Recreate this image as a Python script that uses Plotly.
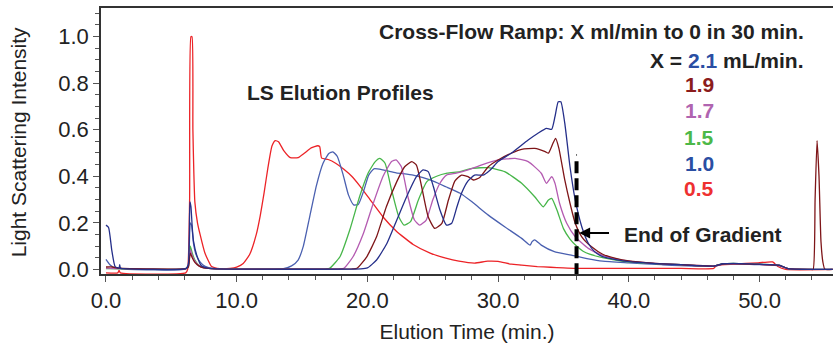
import plotly.graph_objects as go

# ---------------- data ----------------
red_x = [0, 0.9, 1.0, 1.1, 6.1, 6.25, 6.4, 6.5, 6.58, 6.65, 6.72, 6.8, 7.0, 7.2, 7.57, 8.08, 8.5, 9.0, 9.5,
         10.0, 10.5, 11.0, 11.5, 11.8, 12.1, 12.4, 12.7, 12.95, 13.2, 13.6, 14.1, 14.7, 15.2, 15.7, 16.2,
         16.35, 16.5, 17.0, 17.6, 18.2, 18.8, 19.4, 20.2, 21.2, 22.2, 23.5, 24.8, 26.0, 27.0, 28.2, 29.2,
         30.0, 31.0, 31.8, 33.0, 34.0, 35.0, 36.0, 38.0, 40.0, 44.0, 46.5, 46.7, 48.0, 49.9, 51.0, 51.4,
         52.0, 55.6]
red_y = [-0.015, -0.015, -0.005, -0.015, -0.015, 0.0, 0.3, 1.0, 1.0, 0.6, 0.42, 0.29, 0.2, 0.15, 0.07,
         0.012, 0.004, 0.002, 0.004, 0.01, 0.025, 0.065, 0.15, 0.23, 0.33, 0.44, 0.53, 0.553, 0.548, 0.51,
         0.48, 0.48, 0.50, 0.522, 0.531, 0.527, 0.478, 0.472, 0.455, 0.43, 0.40, 0.36, 0.30, 0.225, 0.165,
         0.107, 0.07, 0.048, 0.035, 0.027, 0.035, 0.034, 0.022, 0.018, 0.012, 0.009, 0.006, 0.004, 0.004,
         0.004, 0.004, 0.004, 0.016, 0.022, 0.028, 0.032, 0.012, 0.0, 0.0]

b10_x = [0, 0.3, 0.6, 1.0, 1.05, 1.2, 6.1, 6.3, 6.45, 6.55, 6.7, 6.85, 7.1, 7.4, 7.8, 8.5, 13.5, 14.2,
         14.7, 15.1, 15.6, 16.1, 16.6, 17.05, 17.35, 17.7, 18.15, 18.55, 18.95, 19.3, 19.7, 20.1, 20.5,
         21.2, 22.2, 23.5, 24.8, 26.0, 27.1, 28.0, 29.25, 30.5, 31.8, 32.45, 32.6, 32.8, 33.3, 34.3, 35.6,
         36.9, 38.0, 40.0, 42.5, 46.5, 47.2, 48.0, 50.0, 51.5, 52.2, 55.6]
b10_y = [0.043, 0.02, 0.008, 0.004, 0.01, 0.003, 0.002, 0.02, 0.2, 0.19, 0.11, 0.07, 0.04, 0.02, 0.008,
         0.002, 0.002, 0.015, 0.04, 0.1, 0.23, 0.36, 0.455, 0.498, 0.505, 0.485, 0.405, 0.32, 0.277,
         0.279, 0.334, 0.405, 0.432, 0.427, 0.415, 0.405, 0.384, 0.355, 0.327, 0.29, 0.233, 0.183, 0.133,
         0.104, 0.119, 0.127, 0.104, 0.076, 0.061, 0.045, 0.035, 0.028, 0.02, 0.013, 0.022, 0.024, 0.02,
         0.016, 0.002, 0.0]

g15_x = [0, 1.0, 6.1, 6.3, 6.45, 6.6, 6.8, 7.1, 7.5, 8.5, 16.8, 17.1, 17.9, 18.65, 19.4, 20.05, 20.6,
         20.95, 21.35, 21.85, 22.4, 22.8, 23.3, 23.9, 24.55, 25.3, 26.1, 27.1, 28.0, 29.25, 30.5, 31.8,
         32.8, 33.45, 33.85, 34.1, 34.5, 35.0, 35.5, 36.0, 36.5, 37.0, 38.0, 39.0, 40.0, 42.0, 44.0, 46.5,
         47.2, 48.0, 50.0, 51.5, 52.2, 55.6]
g15_y = [0.003, 0.002, 0.002, 0.01, 0.1, 0.07, 0.04, 0.018, 0.006, 0.002, 0.002, 0.004, 0.054, 0.169,
         0.312, 0.413, 0.463, 0.477, 0.456, 0.341, 0.226, 0.19, 0.205, 0.298, 0.377, 0.40, 0.413, 0.42,
         0.434, 0.437, 0.42, 0.37, 0.312, 0.269, 0.298, 0.305, 0.255, 0.175, 0.13, 0.10, 0.078, 0.065,
         0.05, 0.04, 0.032, 0.025, 0.02, 0.014, 0.024, 0.026, 0.022, 0.018, 0.003, 0.0]

m17_x = [0, 1.0, 6.1, 6.3, 6.45, 6.6, 6.8, 7.1, 7.5, 8.5, 17.8, 18.2, 18.9, 19.7, 20.45, 21.2, 21.85,
         22.2, 22.6, 23.1, 23.6, 24.0, 24.5, 25.0, 25.55, 26.05, 26.8, 27.7, 28.7, 30.0, 31.3, 32.3, 33.3,
         33.7, 34.1, 34.35, 34.7, 35.25, 35.9, 36.9, 38.0, 39.0, 40.0, 42.0, 44.0, 46.5, 47.2, 48.0, 50.0,
         51.5, 52.2, 55.6]
m17_y = [0.005, 0.003, 0.002, 0.01, 0.085, 0.06, 0.035, 0.016, 0.006, 0.002, 0.002, 0.004, 0.054, 0.155,
         0.284, 0.40, 0.463, 0.47, 0.441, 0.312, 0.212, 0.19, 0.212, 0.298, 0.37, 0.405, 0.413, 0.427,
         0.448, 0.47, 0.477, 0.463, 0.413, 0.37, 0.398, 0.37, 0.284, 0.198, 0.14, 0.09, 0.06, 0.045, 0.035,
         0.026, 0.02, 0.014, 0.023, 0.025, 0.021, 0.017, 0.003, 0.0]

d19_x = [0, 0.5, 1.0, 6.1, 6.3, 6.45, 6.6, 6.8, 7.1, 7.5, 8.5, 18.8, 19.2, 19.95, 20.7, 21.45, 22.25,
         22.85, 23.4, 23.75, 24.15, 24.65, 25.15, 25.7, 26.2, 26.7, 27.2, 27.7, 28.1, 28.6, 29.25, 30.0,
         31.0, 31.8, 32.8, 33.6, 33.85, 34.2, 34.4, 34.65, 35.1, 35.5, 35.9, 36.4, 37.15, 38.0, 39.0, 40.0,
         42.0, 44.0, 46.5, 47.2, 48.0, 50.0, 51.5, 52.2, 53.9, 54.1, 54.25, 54.4, 54.55, 54.7, 54.85,
         55.0, 55.6]
d19_y = [0.01, 0.01, 0.005, 0.003, 0.01, 0.07, 0.05, 0.03, 0.015, 0.006, 0.002, 0.002, 0.004, 0.054,
         0.14, 0.269, 0.377, 0.441, 0.463, 0.448, 0.355, 0.226, 0.176, 0.198, 0.298, 0.38, 0.405, 0.398,
         0.384, 0.395, 0.441, 0.47, 0.499, 0.516, 0.52, 0.506, 0.499, 0.542, 0.563, 0.52, 0.384, 0.284,
         0.198, 0.14, 0.097, 0.065, 0.047, 0.036, 0.026, 0.02, 0.014, 0.023, 0.025, 0.021, 0.017, 0.003,
         0.0, 0.0, 0.3, 0.553, 0.4, 0.12, 0.03, 0.0, 0.0]

n21_x = [0, 0.2, 0.45, 0.7, 1.0, 1.05, 1.1, 1.3, 6.1, 6.3, 6.42, 6.5, 6.6, 6.7, 6.95, 7.3, 7.8,
         8.5, 19.5, 20.0, 20.7, 21.5, 22.25, 23.0, 23.75, 24.25, 24.65, 25.05, 25.55, 26.05, 26.45, 26.85,
         27.2, 27.7, 28.2, 28.85, 29.4, 30.0, 31.0, 32.3, 33.05, 33.7, 34.1, 34.35, 34.6, 34.8, 35.1, 35.5,
         35.9, 36.4, 36.9, 37.4, 38.0, 39.0, 40.0, 42.0, 44.0, 46.5, 47.2, 48.0, 50.0, 51.5, 52.2, 55.6]
n21_y = [0.19, 0.18, 0.08, 0.012, 0.005, 0.02, 0.005, 0.003, 0.003, 0.02, 0.29, 0.27, 0.18, 0.12,
         0.06, 0.015, 0.005, 0.002, 0.002, 0.006, 0.04, 0.112, 0.212, 0.312, 0.398, 0.427, 0.42, 0.355,
         0.255, 0.19, 0.198, 0.269, 0.327, 0.38, 0.405, 0.405, 0.427, 0.463, 0.499, 0.556, 0.585, 0.606,
         0.602, 0.656, 0.72, 0.72, 0.628, 0.441, 0.298, 0.183, 0.112, 0.075, 0.055, 0.042, 0.033, 0.025,
         0.02, 0.014, 0.024, 0.026, 0.022, 0.018, 0.003, 0.0]

series_labels = ["0.5", "1.0", "1.5", "1.7", "1.9", "2.1"]
line_colors = ["#ec2327", "#4a60b0", "#47b64a", "#b45bb1", "#7e1518", "#252f8a"]
text_colors = ["#ee3030", "#2a4ea3", "#4cb848", "#b064b0", "#8b1c1c", "#2a4ea3"]
gradient_end = 36.0

series = [(red_x, red_y), (b10_x, b10_y), (g15_x, g15_y), (m17_x, m17_y), (d19_x, d19_y), (n21_x, n21_y)]

# ---------------- figure ----------------
fig = go.Figure()
for (xs, ys), lab, col in zip(series, series_labels, line_colors):
    fig.add_trace(go.Scatter(x=xs, y=ys, mode="lines", name=lab,
                             line=dict(color=col, width=1.3, shape="spline", smoothing=0.5)))

FONT = "Liberation Sans, Arial, Helvetica, sans-serif"

fig.update_layout(
    width=833, height=343,
    margin=dict(l=101, r=0, t=8, b=69),
    paper_bgcolor="white", plot_bgcolor="white",
    showlegend=False,
    font=dict(family=FONT, color="#222222"),
)
fig.update_xaxes(
    range=[-0.38, 55.62], showgrid=False, zeroline=False,
    showline=True, linecolor="#333333", linewidth=1.5, mirror=True,
    ticks="outside", ticklen=6, tickwidth=1, tickcolor="#555555",
    tickvals=[0, 10, 20, 30, 40, 50], tickformat=".1f",
    minor=dict(dtick=2, ticks="outside", ticklen=4, tickcolor="#555555", showgrid=False),
    tickfont=dict(size=22, color="#222222"),
    title=dict(text="Elution Time (min.)", font=dict(size=21, color="#222222"), standoff=12),
)
fig.update_yaxes(
    range=[-0.02, 1.123], showgrid=False, zeroline=False,
    showline=True, linecolor="#333333", linewidth=1.5,
    ticks="outside", ticklen=6, tickwidth=1, tickcolor="#555555",
    tickvals=[0, 0.2, 0.4, 0.6, 0.8, 1.0], tickformat=".1f",
    minor=dict(dtick=0.05, ticks="outside", ticklen=4, tickcolor="#555555", showgrid=False),
    tickfont=dict(size=22, color="#222222"),
)

# end-of-gradient dashed marker
fig.add_shape(type="line", xref="x", yref="y", x0=gradient_end, x1=gradient_end, y0=0.465, y1=-0.02,
              line=dict(color="black", width=4, dash="12px,5px"))
fig.add_shape(type="line", xref="x", yref="y", x0=gradient_end, x1=gradient_end, y0=0.495, y1=0.488,
              line=dict(color="#555555", width=1))

ann = []
ann.append(dict(xref="paper", yref="paper", x=-0.113, y=0.496, xanchor="center", yanchor="middle",
                text="Light Scattering Intensity", textangle=-90, showarrow=False,
                font=dict(size=21, color="#222222", family=FONT)))
ann.append(dict(xref="paper", yref="paper", x=0.963, y=0.910, xanchor="right", yanchor="middle",
                text="<b>Cross-Flow Ramp: X ml/min to 0 in 30 min.</b>", showarrow=False,
                font=dict(size=21, color="#222222", family=FONT)))
ann.append(dict(xref="paper", yref="paper", x=0.963, y=0.801, xanchor="right", yanchor="middle",
                text="<b>X = <span style='color:%s'>%s</span> mL/min.</b>" % (text_colors[5], series_labels[5]),
                showarrow=False, font=dict(size=21, color="#222222", family=FONT)))
num_y = [0.320, 0.417, 0.515, 0.613, 0.711]
for lab, col, yy in zip(series_labels[:5], text_colors[:5], num_y):
    ann.append(dict(xref="paper", yref="paper", x=0.840, y=yy, xanchor="right", yanchor="middle",
                    text="<b>%s</b>" % lab, showarrow=False, font=dict(size=21, color=col, family=FONT)))
ann.append(dict(xref="paper", yref="paper", x=0.197, y=0.684, xanchor="left", yanchor="middle",
                text="<b>LS Elution Profiles</b>", showarrow=False,
                font=dict(size=21, color="#222222", family=FONT)))
ann.append(dict(xref="paper", yref="paper", x=0.712, y=0.147, xanchor="left", yanchor="middle",
                text="<b>End of Gradient</b>", showarrow=False,
                font=dict(size=21, color="#222222", family=FONT)))
ann.append(dict(xref="x", yref="y", x=gradient_end + 0.2, y=0.156, ax=38.6, ay=0.156,
                axref="x", ayref="y", text="", showarrow=True, arrowhead=2, arrowsize=1.1,
                arrowwidth=2, arrowcolor="black"))
fig.update_layout(annotations=ann)

fig.write_html("out.html")
